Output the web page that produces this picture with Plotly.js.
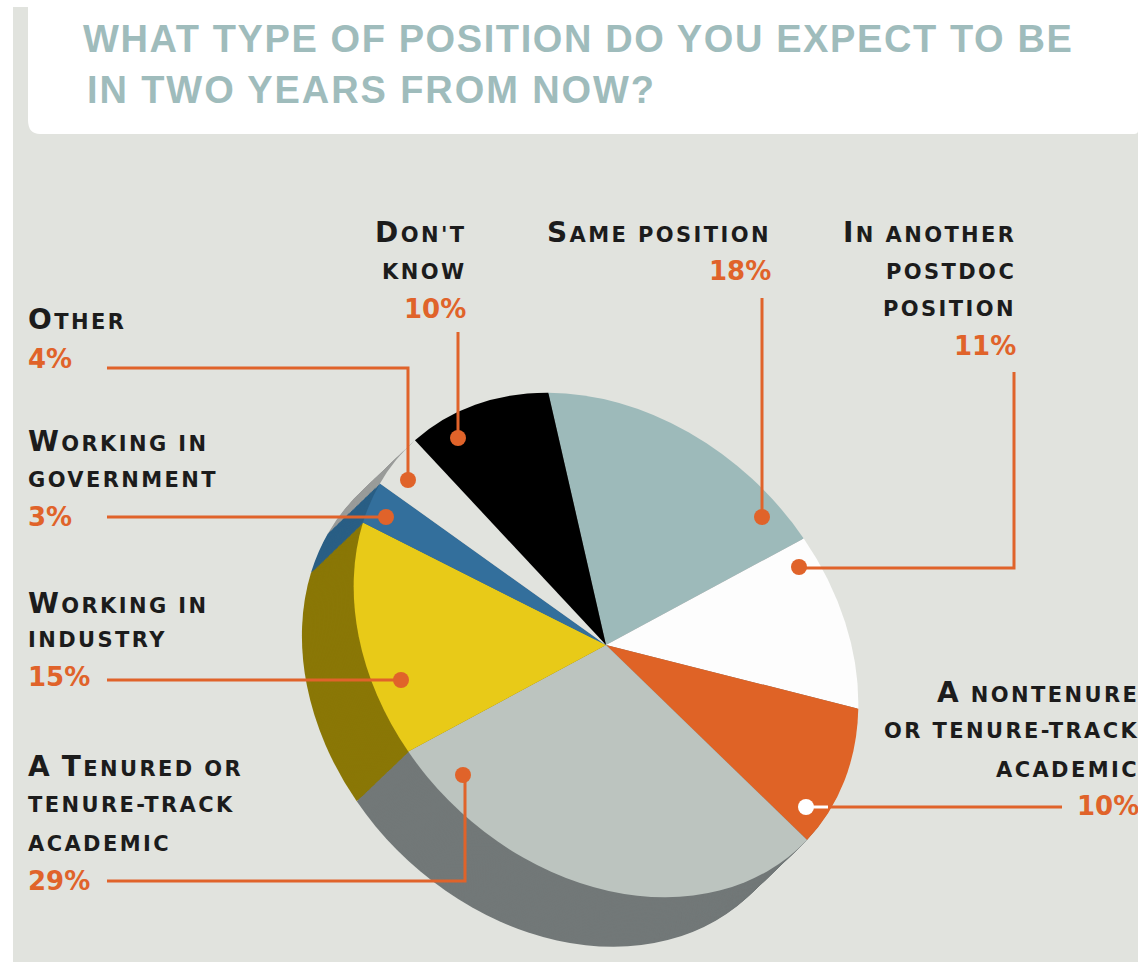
<!DOCTYPE html>
<html>
<head>
<meta charset="utf-8">
<script src="https://cdn.plot.ly/plotly-3.0.1.min.js"></script>
<style>html,body{margin:0;padding:0;background:#fff}#chart{width:1138px;height:964px}</style>
</head>
<body>
<div id="chart"></div>
<script>
var categories = ["Same position","In another postdoc position","A nontenure or tenure-track academic","A tenured or tenure-track academic","Working in industry","Working in government","Other","Don't know"];
var shares = [18, 11, 10, 29, 15, 3, 4, 10];
var topColors = ["#9dbaba","#fdfdfd","#df6326","#bcc4bf","#e8ca18","#336f9c","#e1e3de","#000000"];
var sideColors = ["#727878","#727878","#727878","#727878","#8a7706","#2a5f85","#9a9c9a","#e1e3de"];
var titleLines = ["WHAT TYPE OF POSITION DO YOU EXPECT TO BE","IN TWO YEARS FROM NOW?"];
var labelDontKnow = ["Don't","know"];
var labelSame = ["Same position"];
var labelAnother = ["In another","postdoc","position"];
var labelOther = ["Other"];
var labelGov = ["Working in","government"];
var labelIndustry = ["Working in","industry"];
var labelTenured = ["A Tenured or","tenure-track","academic"];
var labelNontenure = ["A nontenure","or tenure-track","academic"];

var W = 1138, H = 964;
var ORANGE = "#e0632a";
function px(x){return x/W;}
function py(y){return 1-y/H;}

// pie geometry
var cx = 606, cy = 645, r = 249, rot = -6.5;
var stretch = 1.125, squeeze = 0.888;
var p = (stretch+squeeze)/2, q = (stretch-squeeze)/2;
var depth = 40, offX = -58, offY = 56;

function pieTrace(dx, dy, colors){
  return {
    type:"pie", labels:categories, values:shares, sort:false, direction:"clockwise",
    rotation:rot, textinfo:"none", hoverinfo:"skip", showlegend:false,
    marker:{colors:colors, line:{width:0}},
    domain:{x:[px(cx+dx-r),px(cx+dx+r)], y:[py(cy+dy+r),py(cy+dy-r)]}
  };
}
var traces = [];
for (var i = depth; i >= 1; i--) {
  traces.push(pieTrace(offX*i/depth, offY*i/depth, sideColors));
}
traces.push(pieTrace(0,0,topColors));

// small caps: capitals large, lowercase as small capitals
function smallCaps(s){
  var out = "", parts = s.match(/[A-Z]+|[^A-Z]+/g);
  parts.forEach(function(t){
    if (/^[A-Z]/.test(t)) out += '<span style="font-size:28px">'+t+'</span>';
    else out += t.toUpperCase();
  });
  return '<span style="letter-spacing:2.4px">'+out+'</span>';
}
var ann = [];
function note(text,x,y,anchor,font){
  ann.push({xref:"paper",yref:"paper",x:px(x),y:py(y),xanchor:anchor,yanchor:"middle",showarrow:false,
    text:text,font:font,borderpad:0,borderwidth:0,align:anchor});
}
var labelFont = {family:"DejaVu Sans",size:21,color:"#1c1c1c",weight:700};
var pctFont = {family:"DejaVu Sans",size:26,color:ORANGE,weight:700};
function block(lines,share,x,ys,anchor,py2){
  lines.forEach(function(l,k){note(smallCaps(l),x,ys[k],anchor,labelFont);});
  note(share+"%",x,py2,anchor,pctFont);
}
block(labelDontKnow,shares[7],466,[232,272],"right",309);
block(labelSame,shares[0],771,[232],"right",271);
block(labelAnother,shares[1],1016,[232,272,309],"right",346);
block(labelOther,shares[6],28,[320],"left",359);
block(labelGov,shares[5],28,[442,480],"left",517);
block(labelIndustry,shares[4],28,[603,640],"left",677);
block(labelTenured,shares[3],28,[766,805,844],"left",881);
block(labelNontenure,shares[2],1139,[692,731,770],"right",806);
var titleFont = {family:"Liberation Sans",size:38,color:"#9fbcbc",weight:700};
note('<span style="letter-spacing:1.6px">'+titleLines[0]+'</span>',83,39,"left",titleFont);
note('<span style="letter-spacing:1.9px">'+titleLines[1]+'</span>',87,90,"left",titleFont);

// background, header panel, leader lines and dots
var shapes = [];
shapes.push({type:"rect",layer:"below",xref:"paper",yref:"paper",x0:px(13),x1:px(1138),y0:py(962),y1:py(7),fillcolor:"#e1e3de",line:{width:0}});
function P(x,y){return px(x).toFixed(5)+","+py(y).toFixed(5);}
shapes.push({type:"path",layer:"below",xref:"paper",yref:"paper",
  path:"M"+P(28,7)+" L"+P(1138,7)+" L"+P(1138,131)+" Q"+P(1138,134)+" "+P(1134,134)+" L"+P(40,134)+" Q"+P(28,134)+" "+P(28,120)+" Z",
  fillcolor:"#ffffff",line:{width:0}});
function leader(pts,color,dot,dotColor){
  var d = pts.map(function(a,i){return (i?"L":"M")+P(a[0],a[1]);}).join(" ");
  shapes.push({type:"path",layer:"above",xref:"paper",yref:"paper",path:d,line:{color:color,width:3}});
  if (dot) shapes.push({type:"circle",layer:"above",xref:"paper",yref:"paper",
    x0:px(dot[0]-8),x1:px(dot[0]+8),y0:py(dot[1]+8),y1:py(dot[1]-8),fillcolor:dotColor||color,line:{width:0}});
}
leader([[107,368],[408,368],[408,480]],ORANGE,[408,480]);
leader([[458,332],[458,438]],ORANGE,[458,438]);
leader([[762,298],[762,517]],ORANGE,[762,517]);
leader([[1014,372],[1014,568],[799,568]],ORANGE,[799,567]);
leader([[107,517],[386,517]],ORANGE,[386,517]);
leader([[107,680],[401,680]],ORANGE,[401,680]);
leader([[107,881],[465,881],[465,776]],ORANGE,[463,775]);
leader([[1062,807],[828,807]],ORANGE);
leader([[828,807],[806,807]],"#ffffff",[806,807],"#ffffff");

var layout = {width:W,height:H,margin:{l:0,r:0,t:0,b:0,pad:0},paper_bgcolor:"#ffffff",plot_bgcolor:"rgba(0,0,0,0)",
  showlegend:false,shapes:shapes,annotations:ann};

Plotly.newPlot("chart",traces,layout,{staticPlot:true,displayModeBar:false}).then(function(gd){
  // tilt: the pie is seen at an angle, so its circle becomes a slanted ellipse
  var e = cx-(p*cx+q*cy), f = cy-(q*cx+p*cy);
  var g = gd.querySelector(".pielayer");
  if (g) g.setAttribute("transform","matrix("+[p,q,q,p,e,f].join(" ")+")");
});
</script>
</body>
</html>
